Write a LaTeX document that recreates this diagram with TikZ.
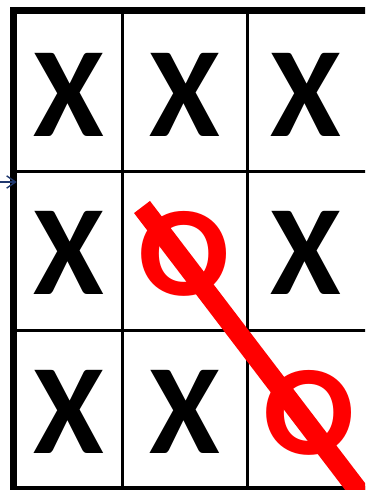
\documentclass[tikz,border=0pt]{standalone}
\usepackage{fontspec}
\newfontfamily\boardfont{Carlito}
\definecolor{oxred}{RGB}{255,0,0}
\definecolor{ptrblue}{RGB}{31,56,110}
\usetikzlibrary{arrows.meta,positioning}

\begin{document}
\begin{tikzpicture}[x=0.02cm, y=-0.02cm,
    frame/.style={line width=0.15cm, black},
    gridline/.style={line width=0.06cm, black},
    xsym/.style={inner sep=0pt, font=\boardfont\bfseries\fontsize{73}{73}\selectfont},
    osym/.style={xsym, text=oxred},
    strike/.style={line width=0.4cm, oxred},
    pointer/.style={ptrblue, line width=0.8pt, -{Straight Barb[length=5pt,width=7pt]}}
  ]
    \useasboundingbox (0,0) rectangle (365,490);
    \clip (0,0) rectangle (365,490);
    % Board area
    \node[inner sep=0pt, minimum width=6.96cm, minimum height=9.44cm] (board) at (191,250) {};
    % Inner grid lines
    \draw[gridline] (122,14) -- (122,486);
    \draw[gridline] (247.5,14) -- (247.5,486);
    \draw[gridline] (17,171.5) -- (370,171.5);
    \draw[gridline] (17,330.5) -- (370,330.5);
    % Outer frame
    \draw[frame] (13.5,492) -- (13.5,10.5) -- (370,10.5);
    \draw[frame] (10,490) -- (370,490);
    % Marks
    \node[xsym] (a1) at (68.5,95) {X};
    \node[xsym] (a2) at (185,95) {X};
    \node[xsym] (a3) at (306,95) {X};
    \node[xsym] (b1) at (68.5,253) {X};
    \node[osym, xscale=1.05] (b2) at (184.5,253.5) {O};
    \node[xsym] (b3) at (306,253) {X};
    \node[xsym] (c1) at (68.5,412) {X};
    \node[xsym] (c2) at (185,412) {X};
    \node[osym, xscale=1.05] (c3) at (309.5,412.5) {O};
    % Winning strike
    \draw[strike] (142,207) -- (373,510);
    % Pointer from outside
    \coordinate (ptrtail) at (-20,182);
    \draw[pointer] (ptrtail) -- (ptrtail -| board.west);
\end{tikzpicture}
\end{document}
